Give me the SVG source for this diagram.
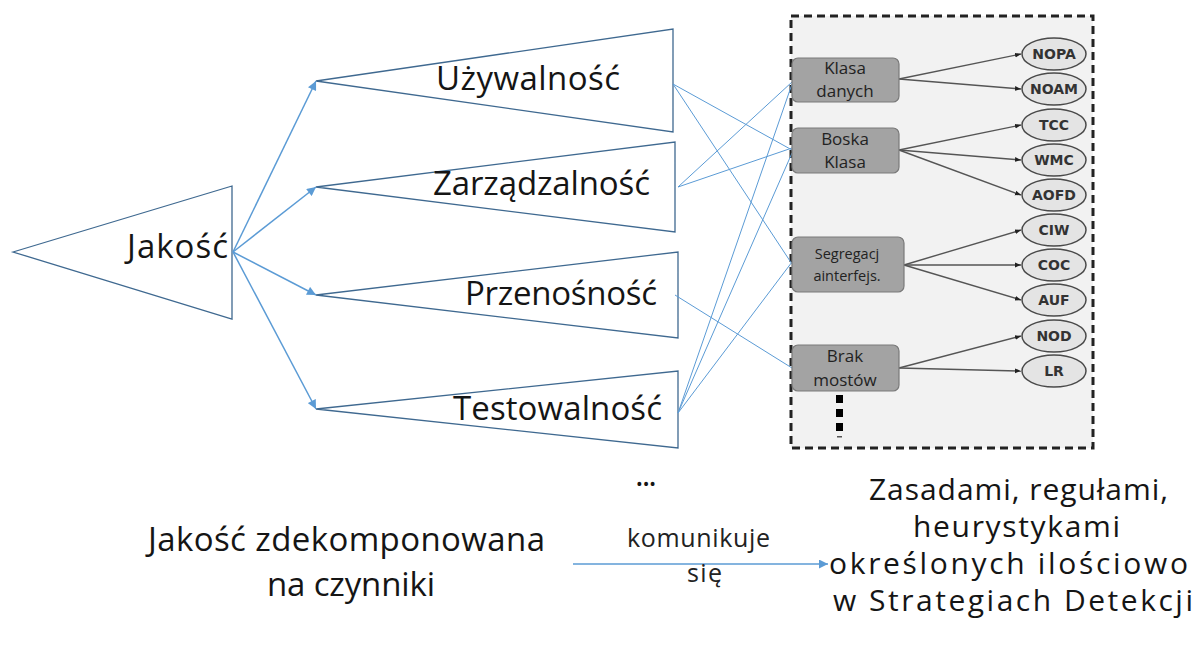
<svg xmlns="http://www.w3.org/2000/svg" width="1194" height="657" viewBox="0 0 1194 657">
<style>
.tri{fill:#fff;stroke:#3f6990;stroke-width:1.3}
.big{font-family:"Open Sans",Lato,sans-serif;font-size:33px;fill:#151515}
.rt{font-family:"Open Sans",Lato,sans-serif;font-size:30px;fill:#151515}
.mid{font-family:"Open Sans",Lato,sans-serif;font-size:25px;fill:#222}
.blue{stroke:#5b9bd5;stroke-width:1.5;fill:none}
.thin{stroke:#5b9bd5;stroke-width:1;fill:none}
.box{fill:#a3a3a3;stroke:#7a7a7a;stroke-width:1.2}
.btxt{font-family:"Open Sans",sans-serif;font-size:17px;fill:#222;text-anchor:middle}
.stxt{font-family:"Open Sans",sans-serif;font-size:14.5px;fill:#222;text-anchor:middle}
.ell{fill:#e4e4e4;stroke:#4a4a4a;stroke-width:1.5}
.etxt{font-family:"DejaVu Sans",sans-serif;font-weight:bold;font-size:14px;fill:#333;text-anchor:middle}
.gray{stroke:#555;stroke-width:1.4;fill:none}
</style>
<defs>
<marker id="ab" viewBox="0 0 10 10" refX="10" refY="5" markerWidth="10" markerHeight="9" orient="auto" markerUnits="userSpaceOnUse">
<path d="M0,0 L10,5 L0,10 z" fill="#5b9bd5"/>
</marker>
<marker id="ag" viewBox="0 0 10 10" refX="10" refY="5" markerWidth="6" markerHeight="6" orient="auto" markerUnits="userSpaceOnUse">
<path d="M0,1 L10,5 L0,9 z" fill="#222"/>
</marker>
</defs>
<rect width="1194" height="657" fill="#fff"/>

<g id="panel">
<rect x="791" y="16" width="302" height="432" fill="#f2f2f2" stroke="#222" stroke-width="3" stroke-dasharray="8 5"/>
</g>

<g id="jakosc">
<polygon class="tri" points="13,252 232,186 232,319"/>
<text class="big" x="127" y="258" textLength="101">Jakość</text>
</g>
<g id="uzywalnosc">
<polygon class="tri" points="316,81 673,29 673,132"/>
<text class="big" x="436" y="90" textLength="184">Używalność</text>
</g>
<g id="zarzadzalnosc">
<polygon class="tri" points="316,187 675,142 675,232"/>
<text class="big" x="433" y="195" textLength="217">Zarządzalność</text>
</g>
<g id="przenosnosc">
<polygon class="tri" points="316,295 678,252 678,338"/>
<text class="big" x="465" y="305" textLength="192">Przenośność</text>
</g>
<g id="testowalnosc">
<polygon class="tri" points="316,409 678,371 678,448"/>
<text class="big" x="453" y="420" textLength="209">Testowalność</text>
</g>

<g id="connectors">
<line class="blue" x1="233" y1="252" x2="316" y2="81" marker-end="url(#ab)"/>
<line class="blue" x1="233" y1="252" x2="316" y2="187" marker-end="url(#ab)"/>
<line class="blue" x1="233" y1="252" x2="316" y2="295" marker-end="url(#ab)"/>
<line class="blue" x1="233" y1="252" x2="316" y2="409" marker-end="url(#ab)"/>
<line class="thin" x1="673" y1="84" x2="792" y2="150"/>
<line class="thin" x1="673" y1="84" x2="792" y2="264"/>
<line class="thin" x1="678" y1="187" x2="792" y2="82"/>
<line class="thin" x1="678" y1="187" x2="792" y2="148"/>
<line class="thin" x1="675" y1="295" x2="792" y2="368"/>
<line class="thin" x1="678" y1="413" x2="792" y2="84"/>
<line class="thin" x1="678" y1="413" x2="792" y2="153"/>
<line class="thin" x1="678" y1="413" x2="792" y2="262"/>
<line class="gray" x1="899" y1="79" x2="1021" y2="54" marker-end="url(#ag)"/>
<line class="gray" x1="899" y1="79" x2="1021" y2="89" marker-end="url(#ag)"/>
<line class="gray" x1="899" y1="150" x2="1021" y2="125" marker-end="url(#ag)"/>
<line class="gray" x1="899" y1="150" x2="1021" y2="160" marker-end="url(#ag)"/>
<line class="gray" x1="899" y1="150" x2="1021" y2="195" marker-end="url(#ag)"/>
<line class="gray" x1="904" y1="265" x2="1021" y2="230" marker-end="url(#ag)"/>
<line class="gray" x1="904" y1="265" x2="1021" y2="265" marker-end="url(#ag)"/>
<line class="gray" x1="904" y1="265" x2="1021" y2="300" marker-end="url(#ag)"/>
<line class="gray" x1="899" y1="368" x2="1021" y2="336" marker-end="url(#ag)"/>
<line class="gray" x1="899" y1="368" x2="1021" y2="371" marker-end="url(#ag)"/>
<line class="blue" x1="573" y1="564" x2="828" y2="564" marker-end="url(#ab)"/>
</g>

<g id="klasa-danych">
<rect class="box" x="792" y="58" width="107" height="44" rx="6"/>
<text class="btxt" x="845" y="74">Klasa</text>
<text class="btxt" x="845" y="97">danych</text>
</g>
<g id="boska-klasa">
<rect class="box" x="792" y="128" width="107" height="45" rx="6"/>
<text class="btxt" x="845" y="145">Boska</text>
<text class="btxt" x="845" y="168">Klasa</text>
</g>
<g id="segregacja">
<rect class="box" x="792" y="237" width="112" height="55" rx="6"/>
<text class="stxt" x="847" y="259">Segregacj</text>
<text class="stxt" x="847" y="281">ainterfejs.</text>
</g>
<g id="brak-mostow">
<rect class="box" x="792" y="345" width="107" height="46" rx="6"/>
<text class="btxt" x="845" y="362">Brak</text>
<text class="btxt" x="845" y="386">mostów</text>
</g>
<g id="more-dots" fill="#000">
<rect x="836" y="395" width="7" height="8"/>
<rect x="836" y="409" width="7" height="8"/>
<rect x="836" y="423" width="7" height="8"/>
<rect x="837" y="436" width="5" height="1.5" fill="#555"/>
</g>

<g id="nopa"><ellipse class="ell" cx="1054" cy="54" rx="32" ry="16"/><text class="etxt" x="1054" y="59">NOPA</text></g>
<g id="noam"><ellipse class="ell" cx="1054" cy="89" rx="32" ry="16"/><text class="etxt" x="1054" y="94">NOAM</text></g>
<g id="tcc"><ellipse class="ell" cx="1054" cy="125" rx="32" ry="16"/><text class="etxt" x="1054" y="130">TCC</text></g>
<g id="wmc"><ellipse class="ell" cx="1054" cy="160" rx="32" ry="16"/><text class="etxt" x="1054" y="165">WMC</text></g>
<g id="aofd"><ellipse class="ell" cx="1054" cy="195" rx="32" ry="16"/><text class="etxt" x="1054" y="200">AOFD</text></g>
<g id="ciw"><ellipse class="ell" cx="1054" cy="230" rx="32" ry="16"/><text class="etxt" x="1054" y="235">CIW</text></g>
<g id="coc"><ellipse class="ell" cx="1054" cy="265" rx="32" ry="16"/><text class="etxt" x="1054" y="270">COC</text></g>
<g id="auf"><ellipse class="ell" cx="1054" cy="300" rx="32" ry="16"/><text class="etxt" x="1054" y="305">AUF</text></g>
<g id="nod"><ellipse class="ell" cx="1054" cy="336" rx="32" ry="16"/><text class="etxt" x="1054" y="341">NOD</text></g>
<g id="lr"><ellipse class="ell" cx="1054" cy="371" rx="32" ry="16"/><text class="etxt" x="1054" y="376">LR</text></g>

<g id="bottom-texts">
<text class="big" x="635" y="486" textLength="22">...</text>
<text class="big" x="148" y="551" textLength="397">Jakość zdekomponowana</text>
<text class="big" x="267" y="596" textLength="168">na czynniki</text>
<text class="mid" x="627" y="547" textLength="143">komunikuje</text>
<text class="mid" x="687" y="582" textLength="35">się</text>
<text class="rt" x="869" y="500" textLength="299">Zasadami, regułami,</text>
<text class="rt" x="913" y="537" textLength="207">heurystykami</text>
<text class="rt" x="829" y="574" textLength="359">określonych ilościowo</text>
<text class="rt" x="833" y="611" textLength="360">w Strategiach Detekcji</text>
</g>
</svg>
